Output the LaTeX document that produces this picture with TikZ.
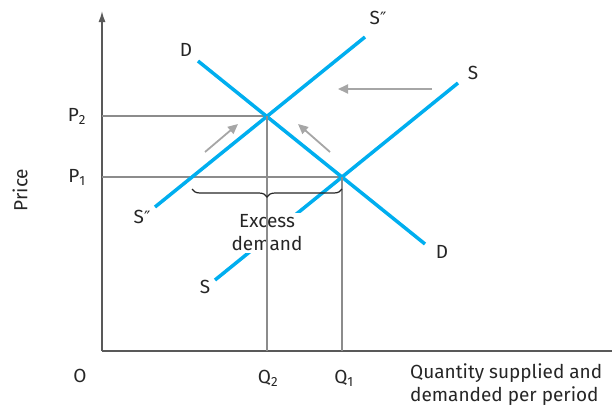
\documentclass[tikz,border=0pt]{standalone}
\usepackage{fontspec}
\setmainfont{Fira Sans}
\newfontfamily\primefont{DejaVu Sans}
\usetikzlibrary{arrows.meta,positioning,decorations.pathreplacing}
\definecolor{curveblue}{RGB}{0,174,239}
\newcommand{\dprime}{{\primefont\fontsize{17}{19}\selectfont ″}}

\begin{document}
\begin{tikzpicture}[x=1pt, y=-1pt,
    curve/.style={line width=3.5pt, color=curveblue},
    guide/.style={line width=1.3pt, color=black!45},
    axis/.style={line width=1.5pt, color=black!65},
    shiftarrow/.style={-{Triangle[length=10pt,width=9pt]}, line width=1.8pt, color=black!35},
    lbl/.style={font=\fontsize{19}{23}\selectfont, text=black!85, inner sep=1pt}
]
    \useasboundingbox (0,0) rectangle (615,408);

    % Axes
    \coordinate (O) at (102,351);
    \coordinate (ytop) at (102,11);
    \coordinate (xend) at (612,351);
    \draw[axis, -{Latex[length=11pt,width=7pt]}] (O) -- (ytop);
    \draw[axis] (O) -- (xend);

    % Equilibrium points
    \coordinate (E2) at (267,116);
    \coordinate (E1) at (342,177);

    % Curve ends
    \coordinate (Dtop) at (198,61);
    \coordinate (Dbot) at (425,244);
    \coordinate (S2bot) at (155,207);
    \coordinate (S2top) at (365,37);
    \coordinate (Sbot) at (215,280);
    \coordinate (Stop) at (458,83);

    % Guide lines
    \draw[guide] (O |- E2) -- (E2);
    \draw[guide] (O |- E1) -- (E1);

    % Supply and demand curves
    \draw[curve] (Sbot) -- (Stop);
    \node[lbl, fill=white, align=center, inner sep=2pt] (excess) at (267,233) {Excess\\demand};
    \draw[curve] (S2bot) -- (S2top);
    \draw[curve] (Dtop) -- (Dbot);

    \draw[guide] (E2) -- (E2 |- O);
    \draw[guide] (E1) -- (E1 |- O);

    % Excess demand brace
    \coordinate (bl) at (192,189);
    \coordinate (br) at (342,189);
    \draw[decorate, decoration={brace, amplitude=8pt, mirror}, line width=1.2pt, color=black!85] (bl) -- (br);

    % Shift arrows
    \coordinate (a1s) at (205,152);
    \coordinate (a1e) at (238,124);
    \coordinate (a2s) at (330,152);
    \coordinate (a2e) at (298,124);
    \coordinate (a3s) at (432,89);
    \coordinate (a3e) at (338,89);
    \draw[shiftarrow] (a1s) -- (a1e);
    \draw[shiftarrow] (a2s) -- (a2e);
    \draw[shiftarrow] (a3s) -- (a3e);

    % Curve labels
    \node[lbl] (Dl1) at (186,50) {D};
    \node[lbl] (Dl2) at (442,252) {D};
    \node[lbl] (S2l1) at (378,18) {S\dprime};
    \node[lbl] (S2l2) at (142,217) {S\dprime};
    \node[lbl] (Sl1) at (473,73) {S};
    \node[lbl] (Sl2) at (205,287) {S};

    % Axis labels
    \node[lbl] (P2) at (77,116) {P\textsubscript{2}};
    \node[lbl] (P1) at (77,177) {P\textsubscript{1}};
    \node[lbl] (Ol) at (80,376) {O};
    \node[lbl] (Q2) at (268,378) {Q\textsubscript{2}};
    \node[lbl] (Q1) at (344,378) {Q\textsubscript{1}};
    \node[lbl, rotate=90] (price) at (20,190) {Price};
    \node[lbl, align=left, anchor=west] (qty) at (409,385) {Quantity supplied and\\demanded per period};
\end{tikzpicture}
\end{document}
